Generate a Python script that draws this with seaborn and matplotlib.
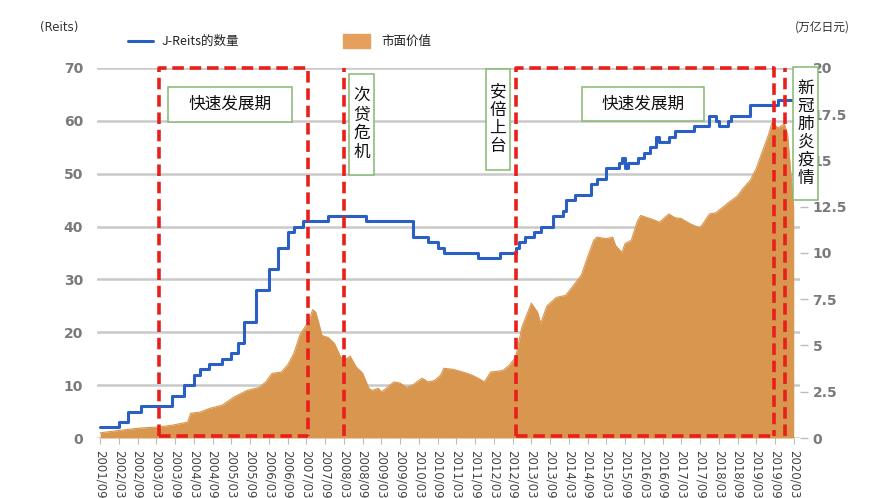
import matplotlib
matplotlib.use("Agg")
import matplotlib.pyplot as plt
from matplotlib.patches import Rectangle
from matplotlib.lines import Line2D
import seaborn as sns
import pandas as pd

# ---------------- data ----------------
tick_labels = ["2001/09", "2002/03", "2002/09", "2003/03", "2003/09", "2004/03", "2004/09",
               "2005/03", "2005/09", "2006/03", "2006/09", "2007/03", "2007/09", "2008/03",
               "2008/09", "2009/03", "2009/09", "2010/03", "2010/09", "2011/03", "2011/09",
               "2012/03", "2012/09", "2013/03", "2013/09", "2014/03", "2014/09", "2015/03",
               "2015/09", "2016/03", "2016/09", "2017/03", "2017/09", "2018/03", "2018/09",
               "2019/03", "2019/09", "2020/03"]

reits_dates = ["2001-09", "2002-03", "2002-06", "2002-10", "2003-08", "2003-12", "2004-03",
               "2004-05", "2004-08", "2004-12", "2005-03", "2005-05", "2005-07", "2005-11",
               "2006-03", "2006-06", "2006-09", "2006-11", "2007-02", "2007-10", "2008-10",
               "2010-01", "2010-06", "2010-09", "2010-11", "2011-10", "2012-05", "2012-10",
               "2012-11", "2013-01", "2013-04", "2013-06", "2013-10", "2014-01", "2014-02",
               "2014-05", "2014-10", "2014-12", "2015-03", "2015-07", "2015-08", "2015-09",
               "2015-10", "2016-01", "2016-03", "2016-05", "2016-07", "2016-08", "2016-11",
               "2017-01", "2017-07", "2017-12", "2018-02", "2018-03", "2018-06", "2018-07",
               "2019-01", "2019-10", "2020-03"]
reits_count = [2, 3, 5, 6, 8, 10, 12, 13, 14, 15, 16, 18, 22, 28, 32, 36, 39, 40, 41, 42, 41,
               38, 37, 36, 35, 34, 35, 36, 37, 38, 39, 40, 42, 43, 45, 46, 48, 49, 51, 52, 53,
               51, 52, 53, 54, 55, 57, 56, 57, 58, 59, 61, 60, 59, 60, 61, 63, 64, 64]

cap_dates = ["2001-09", "2002-04", "2002-10", "2003-04", "2003-08", "2004-01", "2004-02",
             "2004-05", "2004-08", "2004-12", "2005-04", "2005-08", "2005-12", "2006-02",
             "2006-04", "2006-07", "2006-09", "2006-11", "2007-01", "2007-04", "2007-05",
             "2007-06", "2007-07", "2007-08", "2007-10", "2007-12", "2008-02", "2008-04",
             "2008-05", "2008-07", "2008-09", "2008-11", "2008-12", "2009-02", "2009-03",
             "2009-05", "2009-07", "2009-09", "2009-11", "2010-01", "2010-04", "2010-06",
             "2010-08", "2010-10", "2010-11", "2011-02", "2011-05", "2011-08", "2011-10",
             "2011-12", "2012-02", "2012-04", "2012-06", "2012-08", "2012-10", "2012-12",
             "2013-03", "2013-05", "2013-06", "2013-08", "2013-11", "2014-02", "2014-04",
             "2014-07", "2014-09", "2014-11", "2014-12", "2015-03", "2015-05", "2015-06",
             "2015-08", "2015-09", "2015-11", "2016-01", "2016-02", "2016-05", "2016-07",
             "2016-08", "2016-11", "2017-01", "2017-03", "2017-05", "2017-07", "2017-09",
             "2017-10", "2017-12", "2018-02", "2018-05", "2018-06", "2018-09", "2018-11",
             "2019-01", "2019-03", "2019-05", "2019-07", "2019-08", "2019-10", "2019-12",
             "2020-01", "2020-03"]
market_cap = [0.28, 0.43, 0.54, 0.60, 0.69, 0.86, 1.34, 1.40, 1.60, 1.77, 2.23, 2.57, 2.74,
              3.03, 3.49, 3.57, 3.94, 4.57, 5.60, 6.37, 6.94, 6.80, 6.20, 5.54, 5.43, 5.11,
              4.37, 4.29, 4.43, 3.83, 3.51, 2.69, 2.57, 2.69, 2.49, 2.74, 3.03, 2.97, 2.74,
              2.86, 3.23, 3.03, 3.11, 3.40, 3.77, 3.71, 3.57, 3.40, 3.23, 3.03, 3.57, 3.60,
              3.66, 3.94, 4.37, 6.00, 7.29, 6.80, 6.20, 7.14, 7.60, 7.71, 8.14, 8.80, 9.77,
              10.69, 10.86, 10.77, 10.86, 10.40, 10.03, 10.51, 10.69, 11.74, 12.03, 11.86,
              11.74, 11.66, 12.11, 11.91, 11.86, 11.66, 11.49, 11.37, 11.60, 12.11, 12.17,
              12.57, 12.71, 13.09, 13.54, 13.91, 14.57, 15.51, 16.43, 17.03, 16.77, 16.97,
              16.43, 12.40]

left_ticks = [0, 10, 20, 30, 40, 50, 60, 70]
right_ticks = [0, 2.5, 5, 7.5, 10, 12.5, 15, 17.5, 20]
right_tick_labels = ["0", "2.5", "5", "7.5", "10", "12.5", "15", "17.5", "20"]

period_labels = ["快速发展期", "次贷危机", "安倍上台", "快速发展期", "新冠肺炎疫情"]
# ---------------------------------------


def mi(s):
    s = s.replace("/", "-")
    y, m = map(int, s.split("-"))
    return (y - 2001) * 12 + (m - 9)


df_r = pd.DataFrame({"m": [mi(d) for d in reits_dates], "n": reits_count})
df_c = pd.DataFrame({"m": [mi(d) for d in cap_dates], "v": market_cap})

sns.set_theme(style="white")
plt.rcParams["font.family"] = ["Noto Sans CJK SC", "DejaVu Sans"]

W, H = 878, 498
fig = plt.figure(figsize=(W / 100, H / 100), dpi=100)
fig.patch.set_facecolor("white")
ax = fig.add_axes([97 / W, 1 - 438 / H, 703 / W, 370 / H])
ax2 = ax.twinx()
ax3 = ax.twinx()

XL = (-1, 224)
grid_c = "#c9c9c9"
for yv in left_ticks:
    ax.axhline(yv, color=grid_c, lw=1.8, zorder=0)
ax.set_xlim(*XL)
ax.set_ylim(0, 70)
ax.set_yticks(left_ticks)
ax.set_yticklabels([str(t) for t in left_ticks], color="#7a7a7a", fontsize=10,
                   fontweight="semibold", family="DejaVu Sans")
ax.tick_params(axis="y", length=0, pad=10)
tick_pos = [mi(t) for t in tick_labels]
ax.set_xticks(tick_pos)
ax.set_xticklabels(tick_labels, rotation=-90, fontsize=8.5, color="#444444",
                   family="DejaVu Sans")
ax.tick_params(axis="x", length=4, width=0.8, color="#bbbbbb", pad=5, bottom=True)
for s in ax.spines.values():
    s.set_visible(False)

# orange market value area (right axis)
orange = "#D9964F"
ax2.fill_between(df_c["m"], 0, df_c["v"], color=orange, lw=0, zorder=1)
sns.lineplot(data=df_c, x="m", y="v", ax=ax2, color=orange, lw=0.8)
ax2.set_ylim(0, 20)
ax2.set_xlim(*XL)
ax2.set_yticks(right_ticks)
ax2.set_yticklabels(right_tick_labels, color="#7a7a7a", fontsize=10,
                    fontweight="semibold", family="DejaVu Sans")
ax2.tick_params(axis="y", length=6, width=1, color="#bbbbbb", pad=3, right=True)
ax2.set_ylabel("")
ax2.set_xlabel("")
for s in ax2.spines.values():
    s.set_visible(False)

# blue line (left scale)
blue = "#2A5FC4"
sns.lineplot(data=df_r, x="m", y="n", ax=ax3, color=blue, lw=2.2,
             drawstyle="steps-post")
ax3.set_ylim(0, 70)
ax3.set_xlim(*XL)
ax3.set_yticks([])
ax3.set_ylabel("")
ax3.set_xlabel("")
for s in ax3.spines.values():
    s.set_visible(False)
ax.set_xlabel("")
ax.set_ylabel("")

# red dashed period frames
red = "#E8201C"
dkw = dict(color=red, lw=2.6, linestyle=(0, (3.2, 1.6)), clip_on=False, zorder=5)
for (x0, x1) in [(19.0, 66.5), (133.2, 215.8)]:
    ax3.plot([x0, x0, x1, x1], [0.3, 70, 70, 0.3], **dkw)
    ax3.plot([x0, x1], [0.3, 0.3], **dkw)
for xv in [78.2, 219.3]:
    ax3.plot([xv, xv], [0.3, 70], **dkw)

# green annotation boxes
green = "#86B872"
boxes = [
    (21.8, 61.5, 59.8, 66.4, False, 1.0),
    (79.8, 87.8, 49.8, 68.9, True, 1.14),
    (123.4, 131.1, 50.7, 69.8, True, 1.1),
    (154.2, 193.3, 60.0, 66.4, False, 1.0),
    (221.8, 229.8, 45.0, 70.2, True, 1.08),
]
for (x0, x1, y0, y1, vert, ls), lab in zip(boxes, period_labels):
    ax3.add_patch(Rectangle((x0, y0), x1 - x0, y1 - y0, fc="white", ec=green, lw=1.1,
                            clip_on=False, zorder=6))
    txt = "\n".join(lab) if vert else lab
    ax3.text((x0 + x1) / 2, (y0 + y1) / 2, txt, ha="center", va="center",
             fontsize=12, color="#111111", linespacing=ls, clip_on=False, zorder=7,
             fontweight="medium")

# legend and unit labels
fig.text(40 / W, 1 - 27 / H, "(Reits)", fontsize=8.5, color="#333333", va="center",
         family="DejaVu Sans")
fig.text(795 / W, 1 - 27 / H, "(万亿日元)", fontsize=8.5, color="#333333", va="center")
fig.add_artist(Line2D([128 / W, 153 / W], [1 - 41 / H, 1 - 41 / H], color=blue, lw=2.2))
fig.text(162 / W, 1 - 41 / H, "J-Reits的数量", fontsize=9, color="#222222", va="center")
fig.add_artist(Rectangle((343 / W, 1 - 48 / H), 27 / W, 14 / H, color="#E4A05C",
                         transform=fig.transFigure))
fig.text(381 / W, 1 - 41 / H, "市面价值", fontsize=9, color="#222222", va="center")

fig.savefig("out.png", dpi=100, facecolor="white")
